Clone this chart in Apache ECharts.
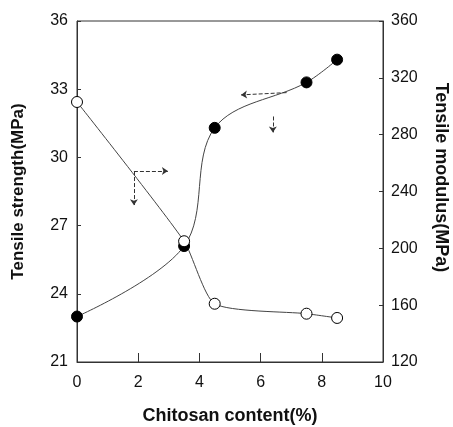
<!DOCTYPE html>
<html lang="en">
<head>
    <meta charset="UTF-8">
    <title>chitosan</title>
    <script src="https://cdn.jsdelivr.net/npm/echarts@6/dist/echarts.min.js"></script>
</head>
<body style="margin:0;background:#fff;">
<div id="main" style="width: 453px;height:427px;"></div>
</body>

<script type="text/javascript">

    var content = [0, 3.5, 4.5, 7.5, 8.5];
    var strength = [23.0, 26.1, 31.3, 33.3, 34.3];
    var modulus = [303, 205, 161, 154, 151];

    // arrows telling which curve belongs to which axis (left axis units)
    var arrows = [
        [[1.86, 29.4], [2.97, 29.4]],
        [[1.86, 29.4], [1.86, 27.9]],
        [[6.85, 32.85], [5.36, 32.75]],
        [[6.40, 31.8], [6.40, 31.1]]
    ];

    var pairs = function (xs, ys) {
        var res = [];
        for (var i = 0; i < xs.length; i++) {
            res.push([xs[i], ys[i]]);
        }
        return res;
    };

    var font = 'Liberation Sans, Arial, sans-serif';

    var myChart = echarts.init(document.getElementById('main'));

    var option = {
        backgroundColor: '#fff',
        animation: false,
        grid: {
            left: 77, right: 70, top: 21, bottom: 65,
            outerBoundsMode: 'none',
            containLabel: false,
            show: true,
            borderColor: '#333',
            borderWidth: 1
        },
        xAxis: {
            type: 'value',
            min: 0, max: 10, interval: 2,
            name: 'Chitosan content(%)',
            nameLocation: 'middle',
            nameGap: 45,
            nameTextStyle: {fontFamily: font, fontSize: 18, fontWeight: 'bold', color: '#111'},
            axisLine: {lineStyle: {color: '#333'}},
            axisTick: {inside: true, length: 9, lineStyle: {color: '#333'}},
            axisLabel: {fontFamily: font, fontSize: 16, color: '#111', margin: 13},
            splitLine: {show: false}
        },
        yAxis: [
            {
                type: 'value',
                min: 21, max: 36, interval: 3,
                name: 'Tensile strength(MPa)',
                nameLocation: 'middle',
                nameGap: 50,
                nameTextStyle: {fontFamily: font, fontSize: 17, fontWeight: 'bold', color: '#111'},
                axisLine: {show: true, lineStyle: {color: '#333'}},
                axisTick: {inside: true, length: 4, lineStyle: {color: '#333'}},
                axisLabel: {fontFamily: font, fontSize: 16, color: '#111', margin: 9},
                splitLine: {show: false}
            },
            {
                type: 'value',
                min: 120, max: 360, interval: 40,
                name: 'Tensile modulus(MPa)',
                nameLocation: 'middle',
                nameRotate: -90,
                nameGap: 49,
                nameTextStyle: {fontFamily: font, fontSize: 18, fontWeight: 'bold', color: '#111', padding: [0, 28, 0, 0]},
                axisLine: {show: true, lineStyle: {color: '#333'}},
                axisTick: {inside: true, length: 4, lineStyle: {color: '#333'}},
                axisLabel: {fontFamily: font, fontSize: 16, color: '#111', margin: 8},
                splitLine: {show: false}
            }
        ],
        series: [
            {
                name: 'strength',
                type: 'line',
                yAxisIndex: 0,
                data: pairs(content, strength),
                smooth: 0.35,
                symbol: 'circle',
                symbolSize: 11,
                itemStyle: {color: '#000', borderColor: '#000', borderWidth: 1},
                lineStyle: {color: '#444', width: 1},
                markLine: {
                    silent: true,
                    symbol: ['none', 'arrow'],
                    symbolSize: 6,
                    label: {show: false},
                    lineStyle: {color: '#333', width: 1, type: 'dashed'},
                    data: arrows.map(function (a) {
                        return [{coord: a[0]}, {coord: a[1]}];
                    })
                }
            },
            {
                name: 'modulus',
                type: 'line',
                yAxisIndex: 1,
                data: pairs(content, modulus),
                smooth: 0.2,
                symbol: 'circle',
                symbolSize: 11,
                itemStyle: {color: '#fff', borderColor: '#000', borderWidth: 1},
                lineStyle: {color: '#444', width: 1}
            }
        ]
    };

    myChart.setOption(option);

</script>
</html>
